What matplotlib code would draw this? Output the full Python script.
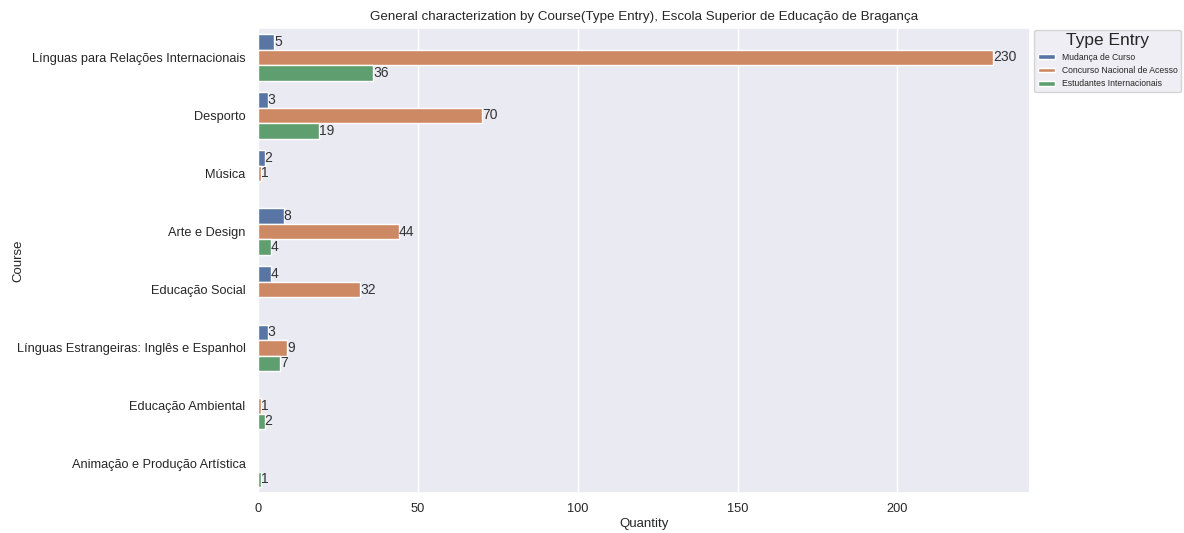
import numpy as np
import matplotlib
matplotlib.use("Agg")
import matplotlib.pyplot as plt
import seaborn as sns

# -----------------------------
# Data
# -----------------------------
courses = [
    "Línguas para Relações Internacionais",
    "Desporto",
    "Música",
    "Arte e Design",
    "Educação Social",
    "Línguas Estrangeiras: Inglês e Espanhol",
    "Educação Ambiental",
    "Animação e Produção Artística",
]
type_entries = ["Mudança de Curso", "Concurso Nacional de Acesso", "Estudantes Internacionais"]
mudanca = [5, 3, 2, 8, 4, 3, np.nan, np.nan]
concurso = [230, 70, 1, 44, 32, 9, 1, np.nan]
internacionais = [36, 19, np.nan, 4, np.nan, 7, 2, 1]

sns.set_theme(style="darkgrid")
plt.rcParams["font.family"] = ["Liberation Sans", "DejaVu Sans"]

fig = plt.figure(figsize=(11.84, 5.33), dpi=100)
ax = fig.add_axes([0.218, 0.075, 0.652, 0.872])

colors = [sns.desaturate(c, 0.75) for c in sns.color_palette("deep", 3)]
series = [mudanca, concurso, internacionais]
y = np.arange(len(courses))
h = 0.8 / 3

for i, (vals, name) in enumerate(zip(series, type_entries)):
    bars = ax.barh(y + (i - 1) * h, vals, height=h, color=colors[i], label=name)
    labels = ["" if np.isnan(v) else f"{int(v)}" for v in vals]
    ax.bar_label(bars, labels=labels, fontsize=10, padding=0, color="#333333")

ax.grid(False, axis="y")
ax.set_yticks(y)
ax.set_yticklabels(courses, fontsize=9.2)
ax.set_ylim(len(courses) - 0.5, -0.5)
ax.tick_params(axis="x", labelsize=9.2, pad=1)
ax.tick_params(axis="y", pad=3)
ax.set_xlabel("Quantity", fontsize=9.5, labelpad=2)
ax.set_ylabel("Course", fontsize=9.5)
ax.yaxis.set_label_coords(-0.303, 0.5)
ax.set_title("General characterization by Course(Type Entry), Escola Superior de Educação de Bragança",
             fontsize=9.6)

leg = ax.legend(title="Type Entry", loc="upper left", bbox_to_anchor=(1.003, 1.0),
                fontsize=6.2, title_fontsize=12.5, handlelength=2, handleheight=0.5,
                borderaxespad=0.2)

fig.savefig("out.png", dpi=100)
